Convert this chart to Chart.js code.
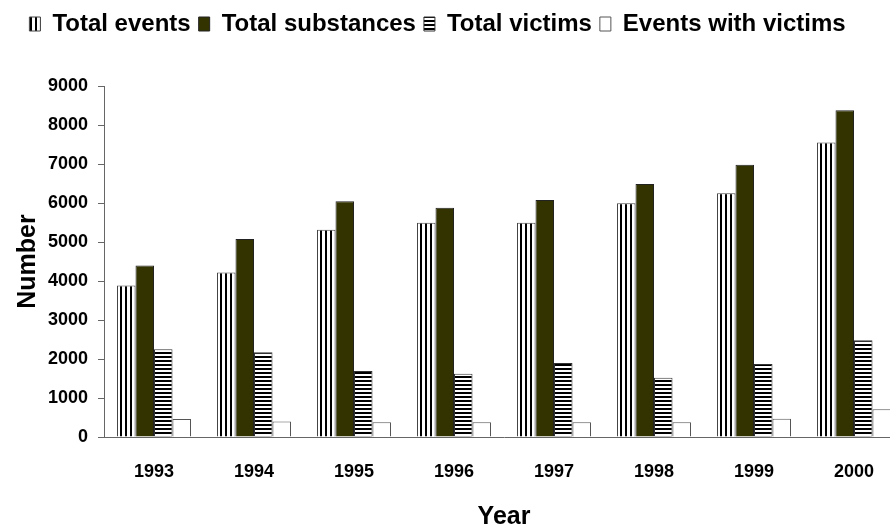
<!DOCTYPE html>
<html><head><meta charset="utf-8">
<script src="https://cdn.jsdelivr.net/npm/chart.js@4.4.0/dist/chart.umd.min.js"></script>
<style>html,body{margin:0;padding:0;overflow:hidden;background:#fff;width:890px;height:532px}
#wrap{width:910px;height:532px;position:relative}</style></head>
<body><div id="wrap"><canvas id="c" width="910" height="532"></canvas></div>
<script>
const years = ['1993', '1994', '1995', '1996', '1997', '1998', '1999', '2000'];
const totalEvents = [3885, 4215, 5315, 5495, 5495, 5995, 6250, 7550];
const totalSubstances = [4400, 5075, 6045, 5880, 6080, 6490, 6980, 8380];
const totalVictims = [2250, 2170, 1690, 1620, 1895, 1520, 1870, 2480];
const eventsWithVictims = [460, 400, 380, 380, 380, 380, 470, 710];
const yTicks = [0, 1000, 2000, 3000, 4000, 5000, 6000, 7000, 8000, 9000];
const seriesNames = ['Total events', 'Total substances', 'Total victims', 'Events with victims'];

const canvas = document.getElementById('c');
const ctx = canvas.getContext('2d');
function stripes(vertical) {
  const c = document.createElement('canvas');
  const p = c.getContext('2d');
  if (vertical) {
    c.width = 5; c.height = 5;
    p.fillStyle = '#fff'; p.fillRect(0, 0, 5, 5);
    p.fillStyle = '#000'; p.fillRect(0, 0, 2, 5);
  } else {
    c.width = 4; c.height = 4;
    p.fillStyle = '#fff'; p.fillRect(0, 0, 4, 4);
    p.fillStyle = '#000'; p.fillRect(0, 0, 4, 2);
  }
  return ctx.createPattern(c, 'repeat');
}
const FONT = "'Liberation Sans', Arial, sans-serif";

new Chart(ctx, {
  type: 'bar',
  data: {
    labels: years,
    datasets: [
      { label: seriesNames[0], data: totalEvents, backgroundColor: stripes(true), borderColor: '#444', borderWidth: 1 },
      { label: seriesNames[1], data: totalSubstances, backgroundColor: '#333300', borderColor: '#222', borderWidth: 1 },
      { label: seriesNames[2], data: totalVictims, backgroundColor: stripes(false), borderColor: '#333', borderWidth: 1 },
      { label: seriesNames[3], data: eventsWithVictims, backgroundColor: '#ffffff', borderColor: '#555', borderWidth: 1 }
    ]
  },
  options: {
    responsive: false,
    animation: false,
    devicePixelRatio: 1,
    datasets: { bar: { categoryPercentage: 0.74, barPercentage: 1.0 } },
    layout: { padding: { left: -29, right: 6, top: 4, bottom: 0 } },
    plugins: {
      legend: {
        position: 'top',
        weight: 1000,
        labels: {
          boxWidth: 11, boxHeight: 14, padding: 8, color: '#000',
          font: { family: FONT, size: 24, weight: 'bold' }
        }
      },
      title: {
        display: true, text: '', weight: 500,
        font: { size: 10 }, padding: { top: 14, bottom: 14 }
      },
      tooltip: { enabled: false }
    },
    scales: {
      x: {
        grid: { display: true, drawOnChartArea: false, drawTicks: false, color: '#666' },
        border: { display: true, color: '#666', width: 1 },
        ticks: { padding: 24, color: '#000', font: { family: FONT, size: 18, weight: 'bold' } },
        title: { display: true, text: 'Year', color: '#000', font: { family: FONT, size: 25, weight: 'bold' }, padding: { top: 0, bottom: 0 } },
        afterFit: s => { s.height = 95; }
      },
      y: {
        min: 0, max: 9000,
        afterBuildTicks: s => { s.ticks = yTicks.map(v => ({ value: v })); },
        grid: { display: true, drawOnChartArea: false, drawTicks: true, tickLength: 6, color: '#666' },
        border: { display: true, color: '#666', width: 1 },
        ticks: { padding: 10, color: '#000', font: { family: FONT, size: 18, weight: 'bold' }, callback: v => String(v) },
        title: { display: true, text: 'Number', color: '#000', font: { family: FONT, size: 25, weight: 'bold' }, padding: { top: 42, bottom: 0 } },
        afterFit: s => { s.width = 133; }
      }
    }
  }
});
</script>
</body></html>
